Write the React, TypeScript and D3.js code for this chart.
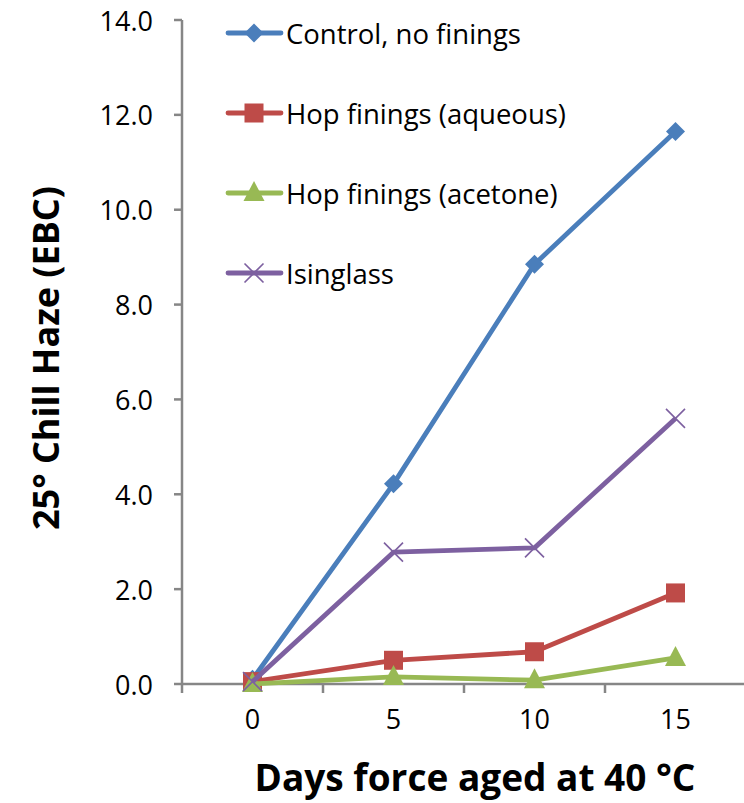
import React, { useMemo } from "react";
import * as d3 from "d3";

const days = ["0", "5", "10", "15"];
const control = [0.1, 4.22, 8.85, 11.65];
const aqueous = [0.05, 0.5, 0.68, 1.92];
const acetone = [0.0, 0.15, 0.08, 0.55];
const isinglass = [0.05, 2.78, 2.87, 5.6];
const yTicks = [0, 2, 4, 6, 8, 10, 12, 14];

const SERIES = [
  { name: "Control, no finings", values: control, color: "#4A7EBB", marker: "diamond" },
  { name: "Hop finings (aqueous)", values: aqueous, color: "#BE4B48", marker: "square" },
  { name: "Hop finings (acetone)", values: acetone, color: "#98B954", marker: "triangle" },
  { name: "Isinglass", values: isinglass, color: "#7D60A0", marker: "x" }
];

const W = 744;
const H = 803;
const M = { left: 182, right: 746, top: 20, bottom: 684 };
const FONT = "'Open Sans', Lato, sans-serif";
const AXIS = "#868686";

function Marker({ type, x, y, color }: { type: string; x: number; y: number; color: string }) {
  if (type === "diamond") {
    const s = 9.5;
    return <path d={`M${x},${y - s}L${x + s},${y}L${x},${y + s}L${x - s},${y}Z`} fill={color} />;
  }
  if (type === "square") {
    return <rect x={x - 9.5} y={y - 9.5} width={19} height={19} fill={color} />;
  }
  if (type === "triangle") {
    return <path d={`M${x},${y - 12}L${x + 10.5},${y + 8}L${x - 10.5},${y + 8}Z`} fill={color} />;
  }
  const s = 9.5;
  return (
    <path
      d={`M${x - s},${y - s}L${x + s},${y + s}M${x - s},${y + s}L${x + s},${y - s}`}
      stroke={color}
      strokeWidth={1.6}
    />
  );
}

export default function App() {
  const x = useMemo(() => d3.scaleBand().domain(days).range([M.left, M.right]), []);
  const y = useMemo(() => d3.scaleLinear().domain([0, 14]).range([M.bottom, M.top]), []);
  const cx = (d: string) => (x(d) ?? 0) + x.bandwidth() / 2;

  const line = d3
    .line<number>()
    .x((_, i) => cx(days[i]))
    .y((v) => y(v));

  const bandEdges = days.map((d) => x(d) ?? 0).concat([M.right]);

  return (
    <svg width={W} height={H} style={{ position: "absolute", left: 0, top: 0, background: "#fff" }} fontFamily={FONT}>
      {/* y axis */}
      <line x1={M.left} x2={M.left} y1={M.top} y2={M.bottom} stroke={AXIS} strokeWidth={2.5} />
      {yTicks.map((t) => (
        <g key={t}>
          <line x1={M.left - 8} x2={M.left} y1={y(t)} y2={y(t)} stroke={AXIS} strokeWidth={2.5} />
          <text x={M.left - 29} y={y(t)} textAnchor="end" dominantBaseline="central" fontSize={27} fill="#000">
            {t.toFixed(1)}
          </text>
        </g>
      ))}
      {/* x axis */}
      <line x1={M.left} x2={M.right} y1={M.bottom} y2={M.bottom} stroke={AXIS} strokeWidth={2.5} />
      {bandEdges.map((e, i) => (
        <line key={i} x1={e} x2={e} y1={M.bottom} y2={M.bottom + 9} stroke={AXIS} strokeWidth={2.5} />
      ))}
      {days.map((d) => (
        <text key={d} x={cx(d)} y={M.bottom + 34} textAnchor="middle" dominantBaseline="central" fontSize={27}>
          {d}
        </text>
      ))}
      {/* axis titles */}
      <text
        transform={`translate(45, ${(M.top + M.bottom) / 2 + 6}) rotate(-90)`}
        textAnchor="middle"
        dominantBaseline="central"
        fontSize={36}
        fontWeight="bold"
      >
        25° Chill Haze (EBC)
      </text>
      <text x={(M.left + M.right) / 2 + 11} y={776} textAnchor="middle" dominantBaseline="central" fontSize={37} fontWeight="bold">
        Days force aged at 40 °C
      </text>
      {/* series */}
      {SERIES.map((s) => (
        <g key={s.name}>
          <path d={line(s.values) ?? ""} fill="none" stroke={s.color} strokeWidth={4.8} strokeLinejoin="round" />
          {s.values.map((v, i) => (
            <Marker key={i} type={s.marker} x={cx(days[i])} y={y(v)} color={s.color} />
          ))}
        </g>
      ))}
      {/* legend */}
      {SERIES.map((s, i) => {
        const ly = 33 + i * 80;
        return (
          <g key={s.name}>
            <line x1={228} x2={281} y1={ly} y2={ly} stroke={s.color} strokeWidth={4.8} strokeLinecap="round" />
            <Marker type={s.marker} x={254} y={ly} color={s.color} />
            <text x={286} y={ly} dominantBaseline="central" fontSize={27.5}>
              {s.name}
            </text>
          </g>
        );
      })}
    </svg>
  );
}
